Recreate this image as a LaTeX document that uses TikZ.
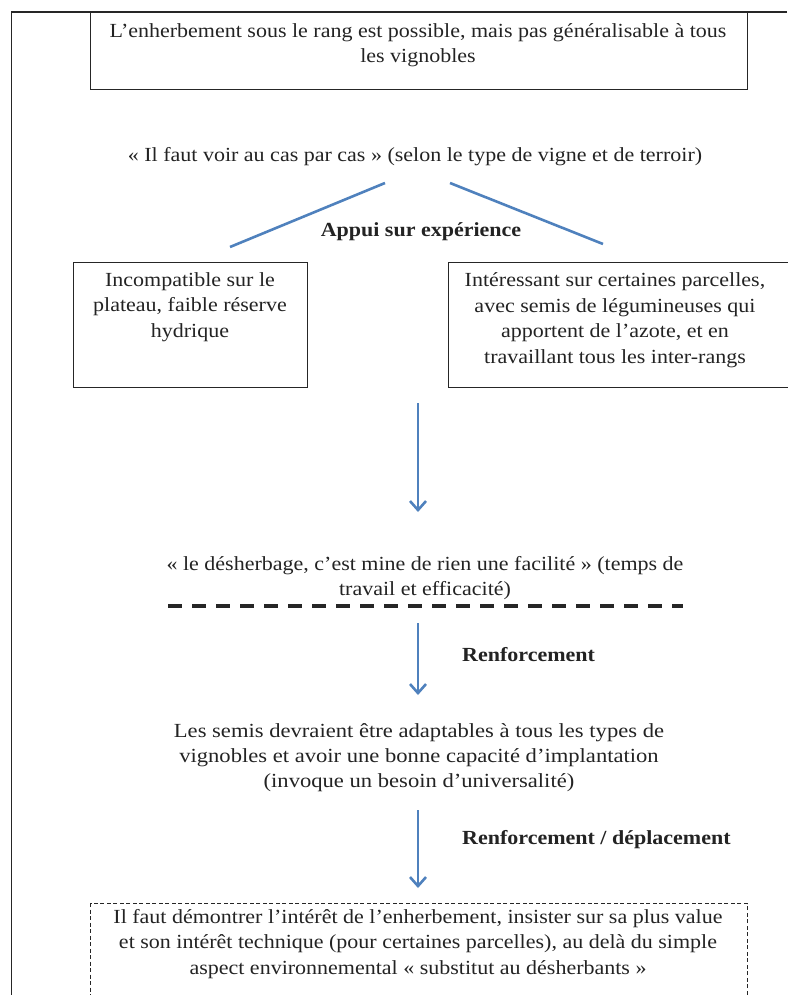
\documentclass[tikz,border=0pt]{standalone}
\usepackage{fontspec}
\setmainfont{Liberation Serif}
\newfontfamily\condfont[FakeStretch=1.1]{Liberation Serif}
\newfontfamily\widefont[FakeStretch=1.13]{Liberation Serif}
\usepackage{xcolor}
\usepackage{tikz}
\usetikzlibrary{positioning}
\usetikzlibrary{arrows.meta}
\definecolor{arrowblue}{RGB}{79,129,189}
\definecolor{textgrey}{RGB}{35,35,35}
\tikzset{
	frame line/.style={draw=black!85,line width=1.4pt},
	main box/.style={draw=black!85,line width=1.3pt,anchor=north west,inner sep=0pt},
	dash box/.style={draw=black!85,line width=1pt,dash pattern=on 4pt off 2.5pt,anchor=north west,inner sep=0pt},
	cond text/.style={font=\condfont\fontsize{20}{25.5}\selectfont,text=textgrey,align=center,inner sep=0pt},
	plain text/.style={font=\widefont\fontsize{20}{25}\selectfont,text=textgrey,align=center,inner sep=0pt},
	bold text/.style={font=\condfont\bfseries\fontsize{20}{24}\selectfont,text=textgrey,inner sep=0pt},
	blue line/.style={draw=arrowblue,line width=2.6pt},
	blue arrow/.style={blue line,-{Straight Barb[length=9pt,width=16pt]}}
}

\begin{document}
\begin{tikzpicture}[x=1pt,y=-1pt]
	\useasboundingbox (0,0) rectangle (787,995);
	% outer frame, cut at the page edges
	\draw[frame line] (787,12) -- (11.5,12) -- (11.5,995);

	\node[main box,minimum width=657pt,minimum height=77pt] (topbox) at (90,12) {};
	\node[cond text] (toptxt) at (418,45) {L’enherbement sous le rang est possible, mais pas généralisable à tous\\les vignobles};

	\node[cond text] (cas) at (415,157) {« Il faut voir au cas par cas » (selon le type de vigne et de terroir)};
	\coordinate (casL) at (385,183);
	\coordinate (casR) at (450,183);
	\node[bold text] (appui) at (421,232) {Appui sur expérience};

	\node[main box,minimum width=234pt,minimum height=125pt] (leftbox) at (73,262) {};
	\node[cond text] (lefttxt) at (190,307) {Incompatible sur le\\plateau, faible réserve\\hydrique};
	\node[main box,minimum width=360pt,minimum height=125pt] (rightbox) at (448,262) {};
	\node[cond text] (righttxt) at (615,320) {Intéressant sur certaines parcelles,\\avec semis de légumineuses qui\\apportent de l’azote, et en\\travaillant tous les inter-rangs};
	\coordinate (leftend) at (230,247);
	\coordinate (rightend) at (603,244);

	\draw[blue line] (casL) -- (leftend);
	\draw[blue line] (casR) -- (rightend);

	\coordinate (a1) at (418,403);
	\coordinate (a1end) at (418,512);
	\draw[blue arrow] (a1) -- (a1end);
	\node[cond text] (desherb) at (425,578) {« le désherbage, c’est mine de rien une facilité » (temps de\\travail et efficacité)};

	\coordinate (dashL) at (168,606);
	\coordinate (dashR) at (683,606);
	\draw[line width=3.6pt,black!85,dash pattern=on 14pt off 10pt] (dashL) -- (dashR);

	\coordinate (a2) at (418,623);
	\coordinate (a2end) at (418,695);
	\draw[blue arrow] (a2) -- (a2end);
	\node[bold text,anchor=west] (renf) at (462,655) {Renforcement};
	\node[plain text] (semis) at (419,758) {Les semis devraient être adaptables à tous les types de\\vignobles et avoir une bonne capacité d’implantation\\(invoque un besoin d’universalité)};

	\coordinate (a3) at (418,810);
	\coordinate (a3end) at (418,888);
	\draw[blue arrow] (a3) -- (a3end);
	\node[bold text,anchor=west] (renfdep) at (462,840) {Renforcement / déplacement};
	\node[dash box,minimum width=657pt,minimum height=110pt] (botbox) at (90,903) {};
	\node[cond text] (bottxt) at (418,944) {Il faut démontrer l’intérêt de l’enherbement, insister sur sa plus value\\et son intérêt technique (pour certaines parcelles), au delà du simple\\aspect environnemental « substitut au désherbants »};
\end{tikzpicture}
\end{document}
